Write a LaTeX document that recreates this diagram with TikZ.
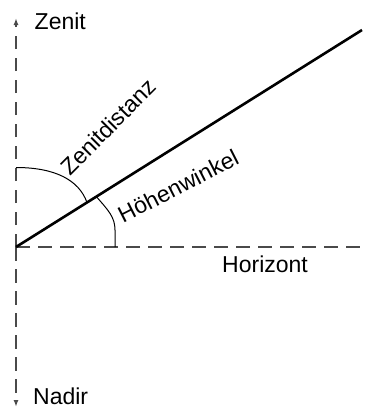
\documentclass[tikz,border=0pt]{standalone}
\usepackage{fontspec}
\setmainfont{Liberation Sans}
\usetikzlibrary{arrows.meta}
\definecolor{axisgray}{HTML}{4A4A4A}
\tikzset{
  axisline/.style={draw=axisgray, line width=1.4pt, dash pattern=on 13.5pt off 8.5pt},
  axisarrow/.style={-{Latex[length=7pt,width=5pt]}, axisgray},
  mainline/.style={draw=black, line width=2.6pt},
  anglearc/.style={draw=black, line width=1pt},
  lbl/.style={inner sep=0pt, anchor=base west, font=\fontsize{23}{27}\selectfont, text=black}
}
\begin{document}
\begin{tikzpicture}[x=1pt,y=-1pt]
\useasboundingbox (0,0) rectangle (369,408);
\coordinate (O) at (16,247);
\coordinate (ztip) at (16,18);
\coordinate (ntip) at (16,407);
\coordinate (hend) at (364,247);
\coordinate (E) at (362,30);
\coordinate (za) at (16,167.5);
\coordinate (zb) at (87,202.5);
\coordinate (ha) at (96.5,196.8);
\coordinate (hb) at (115,247);
% axes
\draw[axisline, axisarrow] (O) -- (ztip);
\draw[axisline, axisarrow] (O) -- (ntip);
\draw[axisline] (O) -- (hend);
% main line
\draw[mainline] (O) -- (E);
% arcs
\draw[anglearc] (za) .. controls (55,167.5) and (79,180) .. (zb);
\draw[anglearc] (ha) .. controls (108,210) and (115,217) .. (115,230) -- (hb);
% labels
\node[lbl] (zenit) at (34.5,29) {Zenit};
\node[lbl] (nadir) at (33,404) {Nadir};
\node[lbl] (horizont) at (222,272.5) {Horizont};
\node[lbl, rotate=45] (zd) at (70,176.5) {Zenitdistanz};
\node[lbl, rotate=27] (hw) at (123,223.5) {Höhenwinkel};
\end{tikzpicture}
\end{document}
